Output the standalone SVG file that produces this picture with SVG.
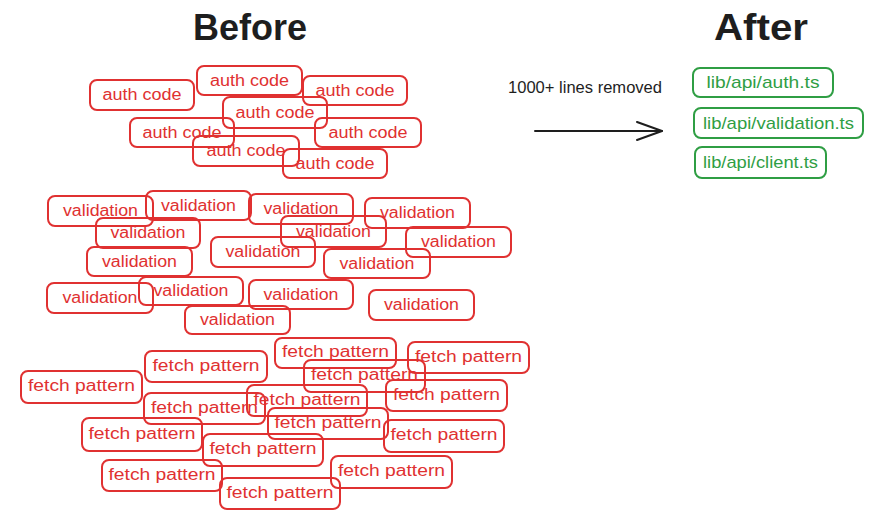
<svg xmlns="http://www.w3.org/2000/svg" width="882" height="522" viewBox="0 0 882 522">
<style>
.bg{fill:#ffffff}
.r rect{fill:none;stroke:#e03131;stroke-width:2;}
.r text{fill:#e03131;font-family:"Liberation Sans",Arial,sans-serif;font-size:16px;text-anchor:middle;}
.g rect{fill:none;stroke:#2f9e44;stroke-width:2;}
.g text{fill:#2f9e44;font-family:"Liberation Sans",Arial,sans-serif;font-size:17px;text-anchor:middle;}
.title{fill:#1e1e1e;font-family:"Liberation Sans",Arial,sans-serif;font-size:36px;font-weight:bold;text-anchor:middle;}
.lbl{fill:#1e1e1e;font-family:"Liberation Sans",Arial,sans-serif;font-size:16px;text-anchor:middle;}
.conn{fill:none;stroke:#1e1e1e;stroke-width:2;stroke-linecap:round;stroke-linejoin:round;}
</style>
<defs>
<marker id="arr" markerUnits="userSpaceOnUse" markerWidth="30" markerHeight="22" refX="26" refY="10" orient="auto">
<path d="M1,1 L26,10 L1,19" fill="none" stroke="#1e1e1e" stroke-width="2" stroke-linecap="round" stroke-linejoin="round"/>
</marker>
</defs>
<rect class="bg" x="0" y="0" width="882" height="522"/>

<text id="title-before" class="title" x="250" y="40" textLength="114" lengthAdjust="spacingAndGlyphs">Before</text>
<text id="title-after" class="title" x="761" y="40" textLength="94" lengthAdjust="spacingAndGlyphs">After</text>

<!-- auth code -->
<g id="auth1" class="r"><rect x="90" y="80" width="104" height="30" rx="7"/><text x="142" y="100" textLength="79" lengthAdjust="spacingAndGlyphs">auth code</text></g>
<g id="auth2" class="r"><rect x="197" y="66" width="105" height="29" rx="7"/><text x="249.5" y="85.5" textLength="79" lengthAdjust="spacingAndGlyphs">auth code</text></g>
<g id="auth3" class="r"><rect x="303" y="76" width="104" height="29" rx="7"/><text x="355" y="95.5" textLength="79" lengthAdjust="spacingAndGlyphs">auth code</text></g>
<g id="auth4" class="r"><rect x="223" y="97" width="104" height="31" rx="7"/><text x="275" y="117.5" textLength="79" lengthAdjust="spacingAndGlyphs">auth code</text></g>
<g id="auth5" class="r"><rect x="130" y="118" width="104" height="29" rx="7"/><text x="182" y="137.5" textLength="79" lengthAdjust="spacingAndGlyphs">auth code</text></g>
<g id="auth6" class="r"><rect x="315" y="118" width="106" height="29" rx="7"/><text x="368" y="137.5" textLength="79" lengthAdjust="spacingAndGlyphs">auth code</text></g>
<g id="auth7" class="r"><rect x="193" y="136" width="106" height="30" rx="7"/><text x="246" y="156" textLength="79" lengthAdjust="spacingAndGlyphs">auth code</text></g>
<g id="auth8" class="r"><rect x="283" y="149" width="104" height="29" rx="7"/><text x="335" y="168.5" textLength="79" lengthAdjust="spacingAndGlyphs">auth code</text></g>

<!-- validation -->
<g id="val1" class="r"><rect x="48" y="196" width="105" height="30" rx="7"/><text x="100.5" y="216" textLength="75" lengthAdjust="spacingAndGlyphs">validation</text></g>
<g id="val2" class="r"><rect x="146" y="191" width="105" height="29" rx="7"/><text x="198.5" y="210.5" textLength="75" lengthAdjust="spacingAndGlyphs">validation</text></g>
<g id="val3" class="r"><rect x="96" y="218" width="104" height="30" rx="7"/><text x="148" y="238" textLength="75" lengthAdjust="spacingAndGlyphs">validation</text></g>
<g id="val4" class="r"><rect x="87" y="247" width="105" height="29" rx="7"/><text x="139.5" y="266.5" textLength="75" lengthAdjust="spacingAndGlyphs">validation</text></g>
<g id="val5" class="r"><rect x="47" y="283" width="106" height="30" rx="7"/><text x="100" y="303" textLength="75" lengthAdjust="spacingAndGlyphs">validation</text></g>
<g id="val6" class="r"><rect x="139" y="277" width="104" height="28" rx="7"/><text x="191" y="296" textLength="75" lengthAdjust="spacingAndGlyphs">validation</text></g>
<g id="val7" class="r"><rect x="185" y="306" width="105" height="28" rx="7"/><text x="237.5" y="325" textLength="75" lengthAdjust="spacingAndGlyphs">validation</text></g>
<g id="val8" class="r"><rect x="211" y="237" width="104" height="30" rx="7"/><text x="263" y="257" textLength="75" lengthAdjust="spacingAndGlyphs">validation</text></g>
<g id="val9" class="r"><rect x="249" y="194" width="104" height="30" rx="7"/><text x="301" y="214" textLength="75" lengthAdjust="spacingAndGlyphs">validation</text></g>
<g id="val10" class="r"><rect x="365" y="198" width="105" height="30" rx="7"/><text x="417.5" y="218" textLength="75" lengthAdjust="spacingAndGlyphs">validation</text></g>
<g id="val11" class="r"><rect x="281" y="216" width="105" height="31" rx="7"/><text x="333.5" y="236.5" textLength="75" lengthAdjust="spacingAndGlyphs">validation</text></g>
<g id="val12" class="r"><rect x="406" y="227" width="105" height="30" rx="7"/><text x="458.5" y="247" textLength="75" lengthAdjust="spacingAndGlyphs">validation</text></g>
<g id="val13" class="r"><rect x="324" y="249" width="106" height="29" rx="7"/><text x="377" y="268.5" textLength="75" lengthAdjust="spacingAndGlyphs">validation</text></g>
<g id="val14" class="r"><rect x="249" y="280" width="104" height="29" rx="7"/><text x="301" y="299.5" textLength="75" lengthAdjust="spacingAndGlyphs">validation</text></g>
<g id="val15" class="r"><rect x="369" y="290" width="105" height="30" rx="7"/><text x="421.5" y="310" textLength="75" lengthAdjust="spacingAndGlyphs">validation</text></g>

<!-- fetch pattern -->
<g id="fetch1" class="r"><rect x="21" y="371" width="121" height="32" rx="7"/><text x="81.5" y="391" textLength="107" lengthAdjust="spacingAndGlyphs">fetch pattern</text></g>
<g id="fetch2" class="r"><rect x="145" y="351" width="122" height="31" rx="7"/><text x="206" y="370.5" textLength="107" lengthAdjust="spacingAndGlyphs">fetch pattern</text></g>
<g id="fetch3" class="r"><rect x="144" y="393" width="121" height="31" rx="7"/><text x="204.5" y="412.5" textLength="107" lengthAdjust="spacingAndGlyphs">fetch pattern</text></g>
<g id="fetch4" class="r"><rect x="82" y="418" width="120" height="33" rx="7"/><text x="142" y="439" textLength="107" lengthAdjust="spacingAndGlyphs">fetch pattern</text></g>
<g id="fetch5" class="r"><rect x="102" y="460" width="120" height="31" rx="7"/><text x="162" y="479.5" textLength="107" lengthAdjust="spacingAndGlyphs">fetch pattern</text></g>
<g id="fetch6" class="r"><rect x="203" y="434" width="120" height="32" rx="7"/><text x="263" y="454" textLength="107" lengthAdjust="spacingAndGlyphs">fetch pattern</text></g>
<g id="fetch7" class="r"><rect x="220" y="478" width="120" height="31" rx="7"/><text x="280" y="497.5" textLength="107" lengthAdjust="spacingAndGlyphs">fetch pattern</text></g>
<g id="fetch8" class="r"><rect x="275" y="338" width="121" height="30" rx="7"/><text x="335.5" y="357" textLength="107" lengthAdjust="spacingAndGlyphs">fetch pattern</text></g>
<g id="fetch9" class="r"><rect x="408" y="342" width="121" height="31" rx="7"/><text x="468.5" y="361.5" textLength="107" lengthAdjust="spacingAndGlyphs">fetch pattern</text></g>
<g id="fetch10" class="r"><rect x="304" y="360" width="121" height="32" rx="7"/><text x="364.5" y="380" textLength="107" lengthAdjust="spacingAndGlyphs">fetch pattern</text></g>
<g id="fetch11" class="r"><rect x="247" y="385" width="120" height="31" rx="7"/><text x="307" y="404.5" textLength="107" lengthAdjust="spacingAndGlyphs">fetch pattern</text></g>
<g id="fetch12" class="r"><rect x="386" y="380" width="121" height="31" rx="7"/><text x="446.5" y="399.5" textLength="107" lengthAdjust="spacingAndGlyphs">fetch pattern</text></g>
<g id="fetch13" class="r"><rect x="268" y="408" width="120" height="31" rx="7"/><text x="328" y="427.5" textLength="107" lengthAdjust="spacingAndGlyphs">fetch pattern</text></g>
<g id="fetch14" class="r"><rect x="384" y="420" width="120" height="32" rx="7"/><text x="444" y="440" textLength="107" lengthAdjust="spacingAndGlyphs">fetch pattern</text></g>
<g id="fetch15" class="r"><rect x="331" y="456" width="121" height="32" rx="7"/><text x="391.5" y="476" textLength="107" lengthAdjust="spacingAndGlyphs">fetch pattern</text></g>

<!-- after -->
<g id="lib-auth" class="g"><rect x="693" y="68" width="140" height="29" rx="7"/><text x="763" y="88" textLength="113" lengthAdjust="spacingAndGlyphs">lib/api/auth.ts</text></g>
<g id="lib-validation" class="g"><rect x="694" y="108" width="169" height="30" rx="7"/><text x="778.5" y="128.5" textLength="151" lengthAdjust="spacingAndGlyphs">lib/api/validation.ts</text></g>
<g id="lib-client" class="g"><rect x="695" y="147" width="131" height="31" rx="7"/><text x="760.5" y="168" textLength="115" lengthAdjust="spacingAndGlyphs">lib/api/client.ts</text></g>

<g id="connectors">
<path class="conn" d="M535 131 L662 131" marker-end="url(#arr)"/>
<text class="lbl" x="585" y="93" textLength="154" lengthAdjust="spacingAndGlyphs">1000+ lines removed</text>
</g>
</svg>
